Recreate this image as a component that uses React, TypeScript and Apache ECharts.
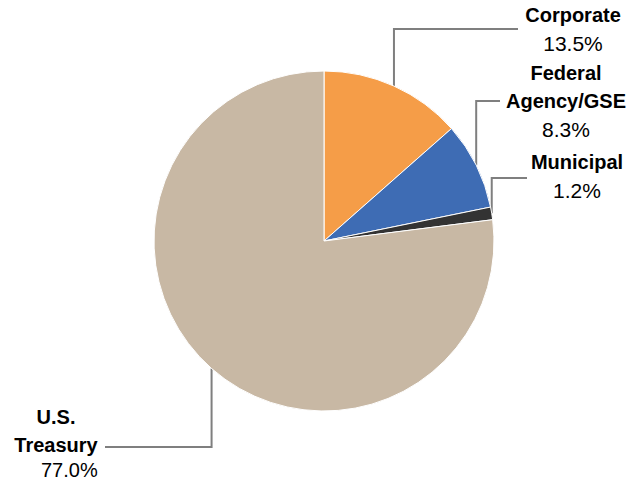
import React, { useEffect, useRef } from 'react';
import * as echarts from 'echarts';

const categories = ['Corporate', 'Federal Agency/GSE', 'Municipal', 'U.S. Treasury'];
const values = [13.5, 8.3, 1.2, 77.0];
const labelLinesText = [['Corporate'], ['Federal', 'Agency/GSE'], ['Municipal'], ['U.S.', 'Treasury']];
const colors = ['#F59D48', '#3E6CB4', '#333333', '#C8B8A4'];

// layout (pixels)
const CX = 324;
const CY = 241;
const R = 170;
const labelPos = [
  { x: 573, y: 29, lineY: 29, lineEnd: 518 },
  { x: 566, y: 101, lineY: 101, lineEnd: 500 },
  { x: 577, y: 176, lineY: 178, lineEnd: 527 },
  { x: 56, y: 442, lineY: 447, lineEnd: 105 },
];

const FONT = '"Liberation Sans", Arial, sans-serif';

export default function App() {
  const ref = useRef<HTMLDivElement>(null);
  useEffect(() => {
    if (!ref.current) return;
    const chart = echarts.init(ref.current, undefined, { renderer: 'svg' });
    const total = values.reduce((a, b) => a + b, 0);
    const midAngles: number[] = [];
    let acc = 0;
    values.forEach((v) => {
      midAngles.push(((acc + v / 2) / total) * Math.PI * 2);
      acc += v;
    });
    chart.setOption({
      animation: false,
      backgroundColor: '#fff',
      series: [
        {
          type: 'pie',
          center: [CX, CY],
          radius: R,
          startAngle: 90,
          clockwise: true,
          avoidLabelOverlap: false,
          silent: true,
          emphasis: { disabled: true },
          itemStyle: { borderColor: '#ffffff', borderWidth: 1 },
          data: categories.map((c, i) => ({
            name: c,
            value: values[i],
            itemStyle: { color: colors[i] },
          })),
          label: {
            show: true,
            position: 'outside',
            formatter: (params: any) => {
              const i = params.dataIndex;
              const lines = labelLinesText[i].map((l) => `{b|${l}}`).join('\n');
              const pct = `${Number(params.value).toFixed(1)}%`;
              return `${lines}\n{${i === 3 ? 'pr' : 'p'}|${pct}}`;
            },
            rich: {
              b: { fontFamily: FONT, fontWeight: 'bold', fontSize: 20, lineHeight: 28, color: '#000' },
              p: { fontFamily: FONT, fontSize: 21, lineHeight: 28, color: '#000' },
              pr: { fontFamily: FONT, fontSize: 20, lineHeight: 22, color: '#000', align: 'right' },
            },
          },
          labelLine: {
            show: true,
            smooth: false,
            lineStyle: { color: '#7F7F7F', width: 2 },
          },
          labelLayout: (params: any) => {
            const i = params.dataIndex;
            const p = labelPos[i];
            const a = midAngles[i];
            const sx = CX + R * Math.sin(a);
            const sy = CY - R * Math.cos(a);
            return {
              x: p.x,
              y: p.y,
              align: 'center',
              verticalAlign: 'middle',
              labelLinePoints: [
                [sx, sy],
                [sx, p.lineY],
                [p.lineEnd, p.lineY],
              ],
            };
          },
        },
      ],
    });
    return () => chart.dispose();
  }, []);
  return (
    <div
      ref={ref}
      style={{ position: 'fixed', left: 0, top: 0, width: 629, height: 482 }}
    />
  );
}
